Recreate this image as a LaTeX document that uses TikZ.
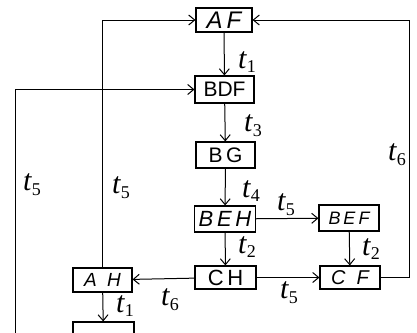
\documentclass[tikz,border=0pt]{standalone}
\usepackage{fontspec}
\setmainfont{Liberation Serif}
\setsansfont{Liberation Sans}
\usetikzlibrary{arrows.meta}
\newcommand{\tl}[1]{\textit{t}\raisebox{-0.35ex}{\fontsize{18}{19}\selectfont #1}}
\begin{document}
\begin{tikzpicture}[x=1pt,y=-1pt,
  box/.style={draw,line width=1.1pt,inner sep=0pt,font=\fontsize{24}{26}\selectfont\sffamily},
  arr/.style={draw,line width=1pt,-{Straight Barb[length=6pt,width=10pt]}},
  lab/.style={font=\fontsize{30}{32}\selectfont}]
\useasboundingbox (0,0) rectangle (417,332);
\clip (0,0) rectangle (417,332);
\node[box,minimum width=56,minimum height=24] (AF) at (224,20) {\itshape A\,F};
\node[box,minimum width=59,minimum height=27,font=\fontsize{21}{22}\selectfont\sffamily] (BDF) at (224.5,89.5) {BDF};
\node[box,minimum width=59,minimum height=26,font=\fontsize{21}{22}\selectfont\sffamily] (BG) at (225.5,155) {B\,G};
\node[box,minimum width=61,minimum height=26,font=\fontsize{22}{24}\selectfont\sffamily] (BEH) at (225,219) {\itshape B\,E\,H};
\node[box,minimum width=60,minimum height=26,font=\fontsize{18}{20}\selectfont\sffamily] (BEF) at (349,218) {\itshape B\,E\,F};
\node[box,minimum width=61,minimum height=23,font=\fontsize{22}{24}\selectfont\sffamily] (CH) at (225.5,277.5) {C\,H};
\node[box,minimum width=60,minimum height=23,font=\fontsize{20}{22}\selectfont\sffamily] (CF) at (350,277.5) {\itshape C\;\;F};
\node[box,minimum width=59,minimum height=24,font=\fontsize{19}{20}\selectfont\sffamily] (AH) at (102.5,280) {\itshape A\;\;H};
\node[box,minimum width=61,minimum height=36] (X) at (103.5,340) {};
\coordinate (R1) at (409,277.5);
\coordinate (L1) at (15,345);
\draw[arr] (AF) -- (BDF);
\draw[arr] (BDF) -- (BG);
\draw[arr] (BG) -- (BEH);
\draw[arr] (BEH) -- (CH);
\draw[arr] (BEH) -- (BEF);
\draw[arr] (BEF) -- (CF);
\draw[arr] (CH) -- (CF);
\draw[arr] (CH) -- (AH);
\draw[arr] (AH) -- (X);
\draw[arr] (CF.east) -- (R1) |- (AF.east);
\draw[arr] (AH.north) |- (AF.west);
\draw[arr] (L1) |- (BDF.west);
\node[lab] (l1) at (247,62) {\tl{1}};
\node[lab] (l3) at (253,126) {\tl{3}};
\node[lab] (l4) at (251,191) {\tl{4}};
\node[lab] (l2a) at (247,247) {\tl{2}};
\node[lab] (l5a) at (286,205) {\tl{5}};
\node[lab] (l2b) at (371,249) {\tl{2}};
\node[lab] (l5b) at (289,293) {\tl{5}};
\node[lab] (l6a) at (170,300) {\tl{6}};
\node[lab] (l1b) at (125,306) {\tl{1}};
\node[lab] (l6b) at (397,155) {\tl{6}};
\node[lab] (l5c) at (121,188) {\tl{5}};
\node[lab] (l5d) at (32,185) {\tl{5}};
\end{tikzpicture}
\end{document}
